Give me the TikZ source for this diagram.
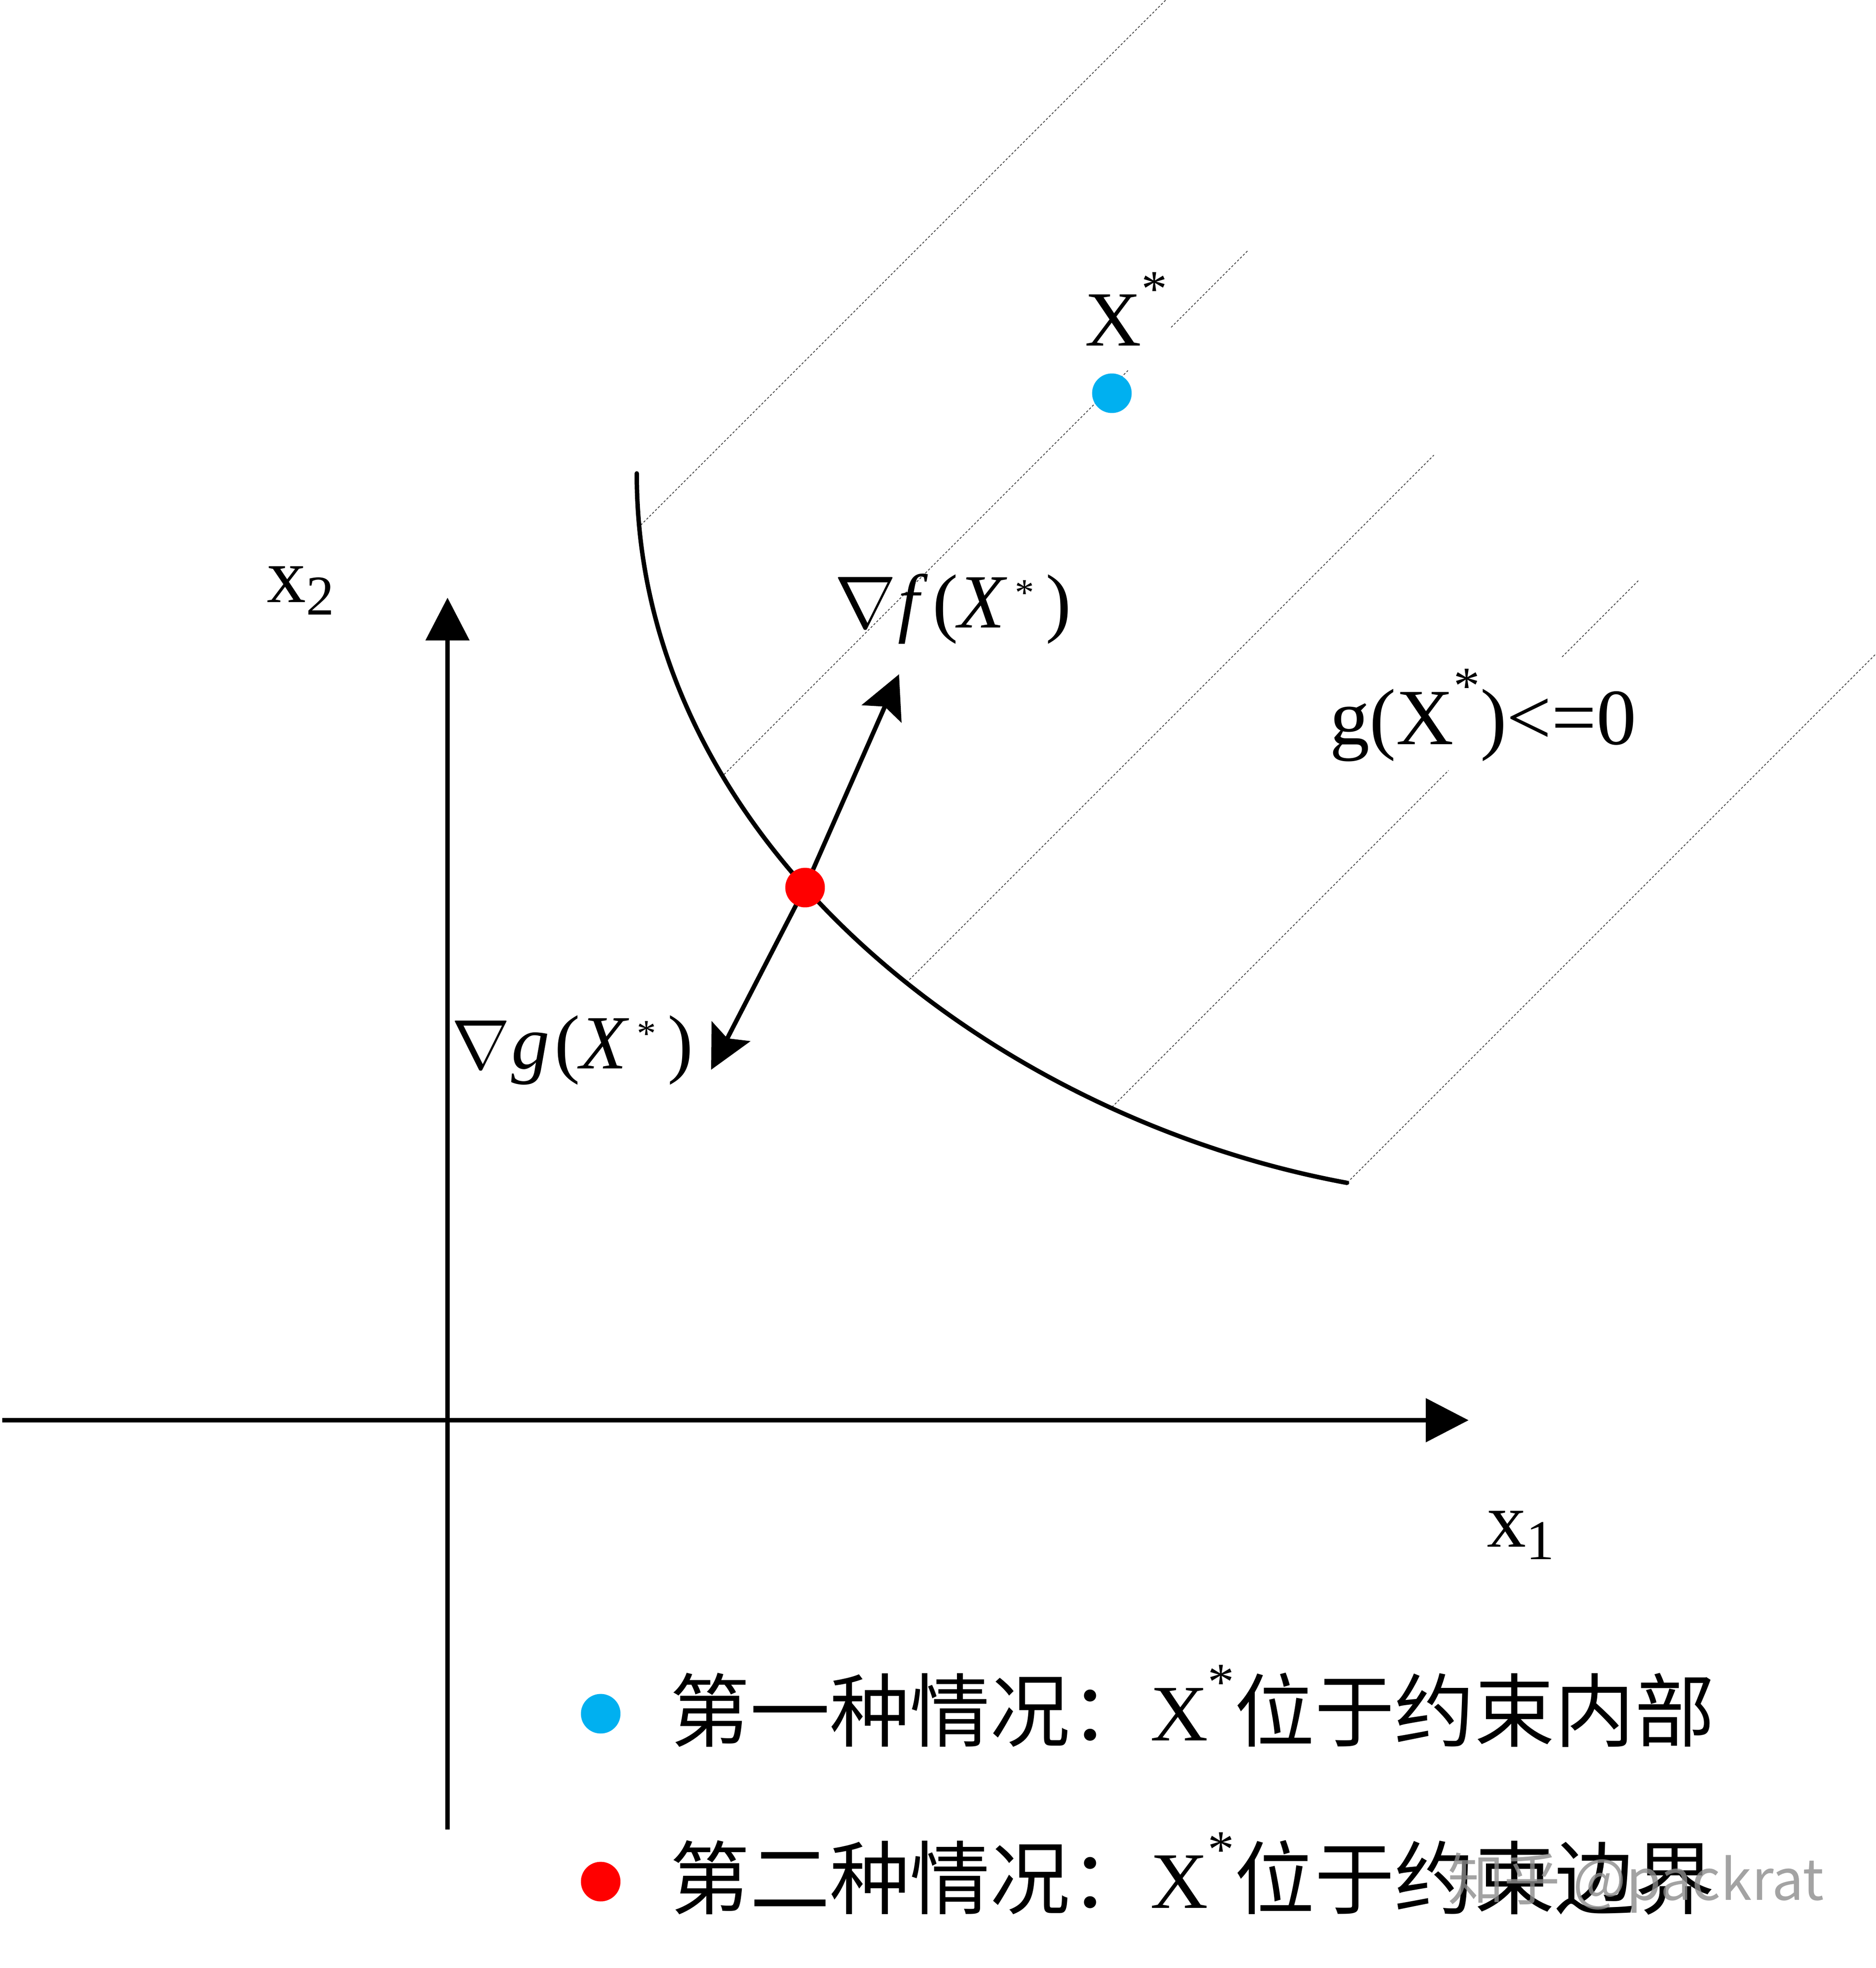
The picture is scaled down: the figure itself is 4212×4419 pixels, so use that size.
\documentclass[tikz,border=0pt]{standalone}
\usepackage{fontspec}
\setmainfont{Liberation Serif}
\newfontfamily\cjk{Noto Sans CJK SC}
\usetikzlibrary{arrows.meta}
\definecolor{dotblue}{RGB}{0,176,240}
\definecolor{dotred}{RGB}{255,0,0}
\newcommand\bigsup{\raisebox{0.51em}{\scalebox{0.66}{*}}}
\newcommand\smallsup{\raisebox{0.29em}{\scalebox{0.5}{*}}}
\begin{document}
\begin{tikzpicture}[x=0.005cm, y=-0.005cm,
  axisline/.style={line width=1.42pt, -{Triangle[length=13.7pt,width=13.8pt]}},
  gradarrow/.style={line width=1.42pt, -{Stealth[length=13.8pt,width=13.8pt,inset=2.5pt]}},
  bound/.style={line width=1.42pt, line cap=round},
  hatchline/.style={black!75, line width=0.25pt, dash pattern=on 0.7pt off 0.6pt},
  dotnode/.style={circle, inner sep=0pt, minimum size=0.445cm},
  lbl/.style={inner sep=0pt, anchor=base west},
]
\useasboundingbox (0,0) rectangle (4212,4419);
\fill[white] (0,0) rectangle (4212,4419);

% hatch lines, clipped to the region beyond the boundary curve
\begin{scope}
\clip (1430,1063) .. controls (1429,1889) and (2227,2509) .. (3025,2656)
      -- (4300,2656) -- (4300,-50) -- (1430,-50) -- cycle;
\draw[hatchline] (1000,1618) -- (2618,0);
\draw[hatchline] (1000,2365) -- (2533,832);
\draw[hatchline] (2630,735) -- (2804,561);
\draw[hatchline] (1500,2742) -- (3220,1022);
\draw[hatchline] (2000,2983) -- (3253,1730);
\draw[hatchline] (3508,1475) -- (3679,1304);
\draw[hatchline] (2800,2881) -- (4212,1469);
\end{scope}

% axes
\coordinate (xstart) at (5,3189);
\coordinate (xend) at (3298,3189);
\coordinate (ystart) at (1005,4108);
\coordinate (yend) at (1005,1342);
\draw[axisline] (xstart) -- (xend);
\draw[axisline] (ystart) -- (yend);

% boundary curve
\coordinate (cstart) at (1430,1063);
\coordinate (cend) at (3025,2656);
\draw[bound] (cstart) .. controls (1429,1889) and (2227,2509) .. (cend);

% gradients
\coordinate (redc) at (1808,1993);
\coordinate (ftip) at (2019,1514);
\coordinate (gtip) at (1597,2402);
\draw[gradarrow] (redc) -- (ftip);
\draw[gradarrow] (redc) -- (gtip);

% points
\node[dotnode, fill=dotred] (red) at (redc) {};
\node[dotnode, fill=dotblue] (blue) at (2497,883) {};

% labels
\node[lbl, font=\fontsize{25pt}{30pt}\selectfont] (x2) at (598,1352)
  {x\raisebox{-4.1pt}{\fontsize{18pt}{20pt}\selectfont 2}};
\node[lbl, font=\fontsize{25pt}{30pt}\selectfont] (x1) at (3338,3473)
  {x\raisebox{-4.1pt}{\fontsize{18pt}{20pt}\selectfont 1}};
\node[lbl, font=\fontsize{25pt}{30pt}\selectfont] (xstar) at (2435,777)
  {X\bigsup};
\node[lbl, font=\fontsize{25.5pt}{30pt}\selectfont] (gle) at (2985,1671)
  {g(X\bigsup)<=0};
\node[inner sep=0pt, anchor=base east, font=\fontsize{24.5pt}{30pt}\selectfont] (flbl) at (2407,1409)
  {\scalebox{0.95}{$\nabla$}\hspace{0.02em}\textit{f}\hspace{0.06em}(\textit{X}\hspace{0.1em}\smallsup\hspace{0.15em})};
\node[inner sep=0pt, anchor=base east, font=\fontsize{24.5pt}{30pt}\selectfont] (glbl) at (1558,2399)
  {\scalebox{0.9}{$\nabla$}\hspace{0.02em}\textit{g}\hspace{0.06em}(\textit{X}\hspace{0.1em}\smallsup\hspace{0.15em})};

% legend
\node[dotnode, fill=dotblue] (leg1) at (1349,3848) {};
\node[dotnode, fill=dotred] (leg2) at (1349,4225) {};
\node[lbl, font=\fontsize{25.6pt}{30pt}\selectfont] (leg1t) at (1503,3908)
  {{\cjk 第一种情况：}X\bigsup{\cjk 位于约束内部}};
\node[lbl, font=\fontsize{25.6pt}{30pt}\selectfont] (leg2t) at (1503,4284)
  {{\cjk 第二种情况：}X\bigsup{\cjk 位于约束边界}};

% watermark
\node[lbl, text=black!45, opacity=0.8, font=\cjk\fontsize{18pt}{20pt}\selectfont] (wm) at (3250,4266)
  {知乎 @packrat};
\end{tikzpicture}
\end{document}
